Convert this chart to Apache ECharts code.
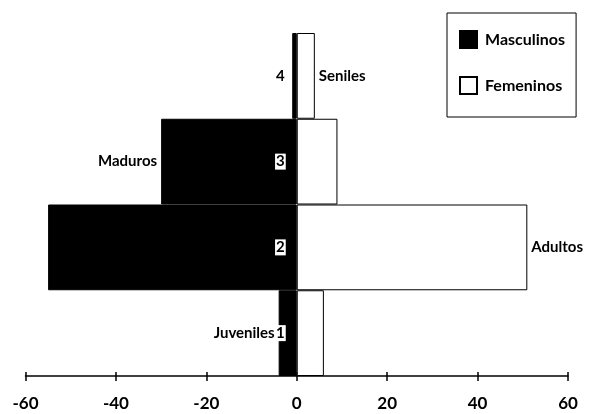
<!DOCTYPE html>
<html>
<head>
<meta charset="utf-8">
<script src="https://cdn.jsdelivr.net/npm/echarts@6/dist/echarts.min.js"></script>
<style>
  html, body { margin: 0; padding: 0; background: #fff; }
  #chart { width: 590px; height: 414px; }
</style>
</head>
<body>
<div id="chart"></div>
<script>
// age groups, bottom to top
const groups = ['1', '2', '3', '4'];
const groupNames = ['Juveniles', 'Adultos', 'Maduros', 'Seniles'];
const masculinos = [-4, -55, -30, -1];
const femeninos = [6, 51, 9, 4];
// which side carries the group name
const nameOnMale = [true, false, true, false];

const font = 'Lato';

const chart = echarts.init(document.getElementById('chart'));

const maleData = masculinos.map((v, i) => ({
  value: v,
  label: { show: nameOnMale[i], formatter: groupNames[i] }
}));
const femaleData = femeninos.map((v, i) => ({
  value: v,
  label: { show: !nameOnMale[i], formatter: groupNames[i] }
}));
// zero-length bars that only carry the group number next to the zero line
const numberData = groups.map(g => ({ value: 0, label: { formatter: g } }));

const labelText = { color: '#000', fontFamily: font, fontSize: 15, fontWeight: 'bold' };

chart.setOption({
  animation: false,
  grid: { left: 25.5, right: 22, top: 33, bottom: 38, containLabel: false },
  legend: {
    orient: 'vertical',
    left: 447,
    top: 13,
    padding: [17, 11, 22, 12],
    itemGap: 27,
    itemWidth: 17,
    itemHeight: 17,
    borderColor: '#000',
    borderWidth: 1,
    icon: 'rect',
    textStyle: { color: '#000', fontFamily: font, fontSize: 16, fontWeight: 'bold', padding: [0, 0, 0, 3] },
    data: ['Masculinos', 'Femeninos']
  },
  xAxis: [{
    type: 'value',
    min: -60,
    max: 60,
    interval: 20,
    splitLine: { show: false },
    axisLine: { show: true, onZero: false, lineStyle: { color: '#000', width: 1.5 } },
    axisTick: { show: true, length: 5, lineStyle: { color: '#000', width: 1.5 } },
    axisLabel: { margin: 19, ...labelText, fontSize: 17 }
  }, {
    type: 'value',
    position: 'bottom',
    min: -60,
    max: 60,
    interval: 20,
    splitLine: { show: false },
    axisLine: { show: false, onZero: false },
    axisTick: { show: true, inside: true, length: 4, lineStyle: { color: '#000', width: 1.5 } },
    axisLabel: { show: false }
  }],
  yAxis: {
    type: 'category',
    data: groups,
    axisLine: { show: false },
    axisTick: { show: false },
    axisLabel: { show: false }
  },
  series: [{
    name: 'Masculinos',
    type: 'bar',
    data: maleData,
    barGap: '-100%',
    barCategoryGap: '0%',
    itemStyle: { color: '#000', borderColor: '#000', borderWidth: 1 },
    label: { position: 'left', distance: 4, ...labelText }
  }, {
    name: 'Femeninos',
    type: 'bar',
    data: femaleData,
    barGap: '-100%',
    barCategoryGap: '0%',
    itemStyle: { color: '#fff', borderColor: '#000', borderWidth: 1 },
    label: { position: 'right', distance: 4, ...labelText }
  }, {
    name: 'grupo',
    type: 'bar',
    data: numberData,
    barGap: '-100%',
    barCategoryGap: '0%',
    z: 5,
    silent: true,
    itemStyle: { color: 'transparent', borderWidth: 0 },
    label: {
      show: true,
      position: 'left',
      distance: 11,
      ...labelText,
      backgroundColor: '#fff',
      padding: [1, 1, 0, 1]
    }
  }]
});
</script>
</body>
</html>
